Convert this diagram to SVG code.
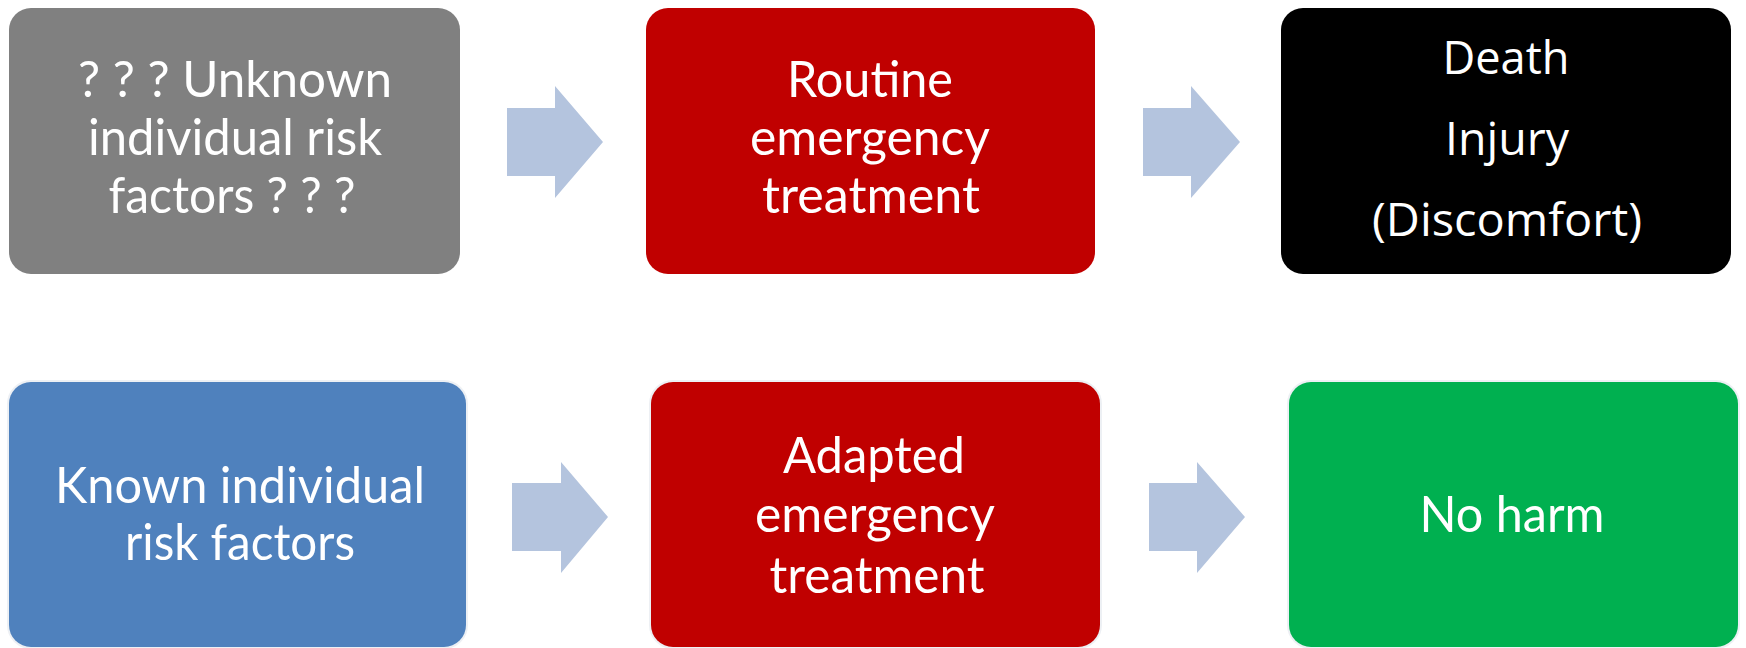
<svg xmlns="http://www.w3.org/2000/svg" width="1746" height="648" viewBox="0 0 1746 648">
<style>
.box{stroke:none}
.halo{fill:none;stroke:#EDF0F4;stroke-width:4}
.t{font-family:Lato,"Open Sans","DejaVu Sans",sans-serif;font-size:50px;fill:#FFFFFF;text-anchor:middle}
.s{font-family:"Open Sans","DejaVu Sans",sans-serif;font-size:46px;fill:#FFFFFF;text-anchor:middle}
.arrow{fill:#B4C4DE}
</style>
<rect width="1746" height="648" fill="#FFFFFF"/>
<g id="connectors">
<polygon class="arrow" points="507,108 555,108 555,86 603,142 555,198 555,176 507,176"/>
<polygon class="arrow" points="1143,108 1191,108 1191,86 1240,142 1191,198 1191,176 1143,176"/>
<polygon class="arrow" points="512,483 561,483 561,462 608,517 561,573 561,551 512,551"/>
<polygon class="arrow" points="1149,483 1197,483 1197,462 1245,517 1197,573 1197,551 1149,551"/>
</g>
<g id="node-unknown">
<rect class="box" x="9" y="8" width="451" height="266" rx="22" fill="#808080"/>
<text class="t" x="235" y="97" textLength="314" lengthAdjust="spacingAndGlyphs">? ? ? Unknown</text>
<text class="t" x="235" y="155" textLength="294" lengthAdjust="spacingAndGlyphs">individual risk</text>
<text class="t" x="232" y="213" textLength="247" lengthAdjust="spacingAndGlyphs">factors ? ? ?</text>
</g>
<g id="node-routine">
<rect class="box" x="646" y="8" width="449" height="266" rx="22" fill="#C00000"/>
<text class="t" x="870" y="97" textLength="166" lengthAdjust="spacingAndGlyphs">Routine</text>
<text class="t" x="870" y="155" textLength="240" lengthAdjust="spacingAndGlyphs">emergency</text>
<text class="t" x="871" y="213" textLength="218" lengthAdjust="spacingAndGlyphs">treatment</text>
</g>
<g id="node-death">
<rect class="box" x="1281" y="8" width="450" height="266" rx="22" fill="#000000"/>
<text class="s" x="1506" y="74" textLength="127" lengthAdjust="spacingAndGlyphs">Death</text>
<text class="s" x="1507" y="155" textLength="124" lengthAdjust="spacingAndGlyphs">Injury</text>
<text class="s" x="1507" y="236" textLength="270" lengthAdjust="spacingAndGlyphs">(Discomfort)</text>
</g>
<g id="node-known">
<rect class="halo" x="9" y="382" width="457" height="265" rx="22"/>
<rect class="box" x="9" y="382" width="457" height="265" rx="22" fill="#4F81BD"/>
<text class="t" x="240" y="503" textLength="370" lengthAdjust="spacingAndGlyphs">Known individual</text>
<text class="t" x="240" y="560" textLength="230" lengthAdjust="spacingAndGlyphs">risk factors</text>
</g>
<g id="node-adapted">
<rect class="halo" x="651" y="382" width="449" height="265" rx="22"/>
<rect class="box" x="651" y="382" width="449" height="265" rx="22" fill="#C00000"/>
<text class="t" x="874" y="473" textLength="182" lengthAdjust="spacingAndGlyphs">Adapted</text>
<text class="t" x="875" y="532" textLength="240" lengthAdjust="spacingAndGlyphs">emergency</text>
<text class="t" x="877" y="593" textLength="215" lengthAdjust="spacingAndGlyphs">treatment</text>
</g>
<g id="node-noharm">
<rect class="halo" x="1289" y="382" width="449" height="265" rx="22"/>
<rect class="box" x="1289" y="382" width="449" height="265" rx="22" fill="#00B050"/>
<text class="t" x="1512" y="532" textLength="185" lengthAdjust="spacingAndGlyphs">No harm</text>
</g>
</svg>
